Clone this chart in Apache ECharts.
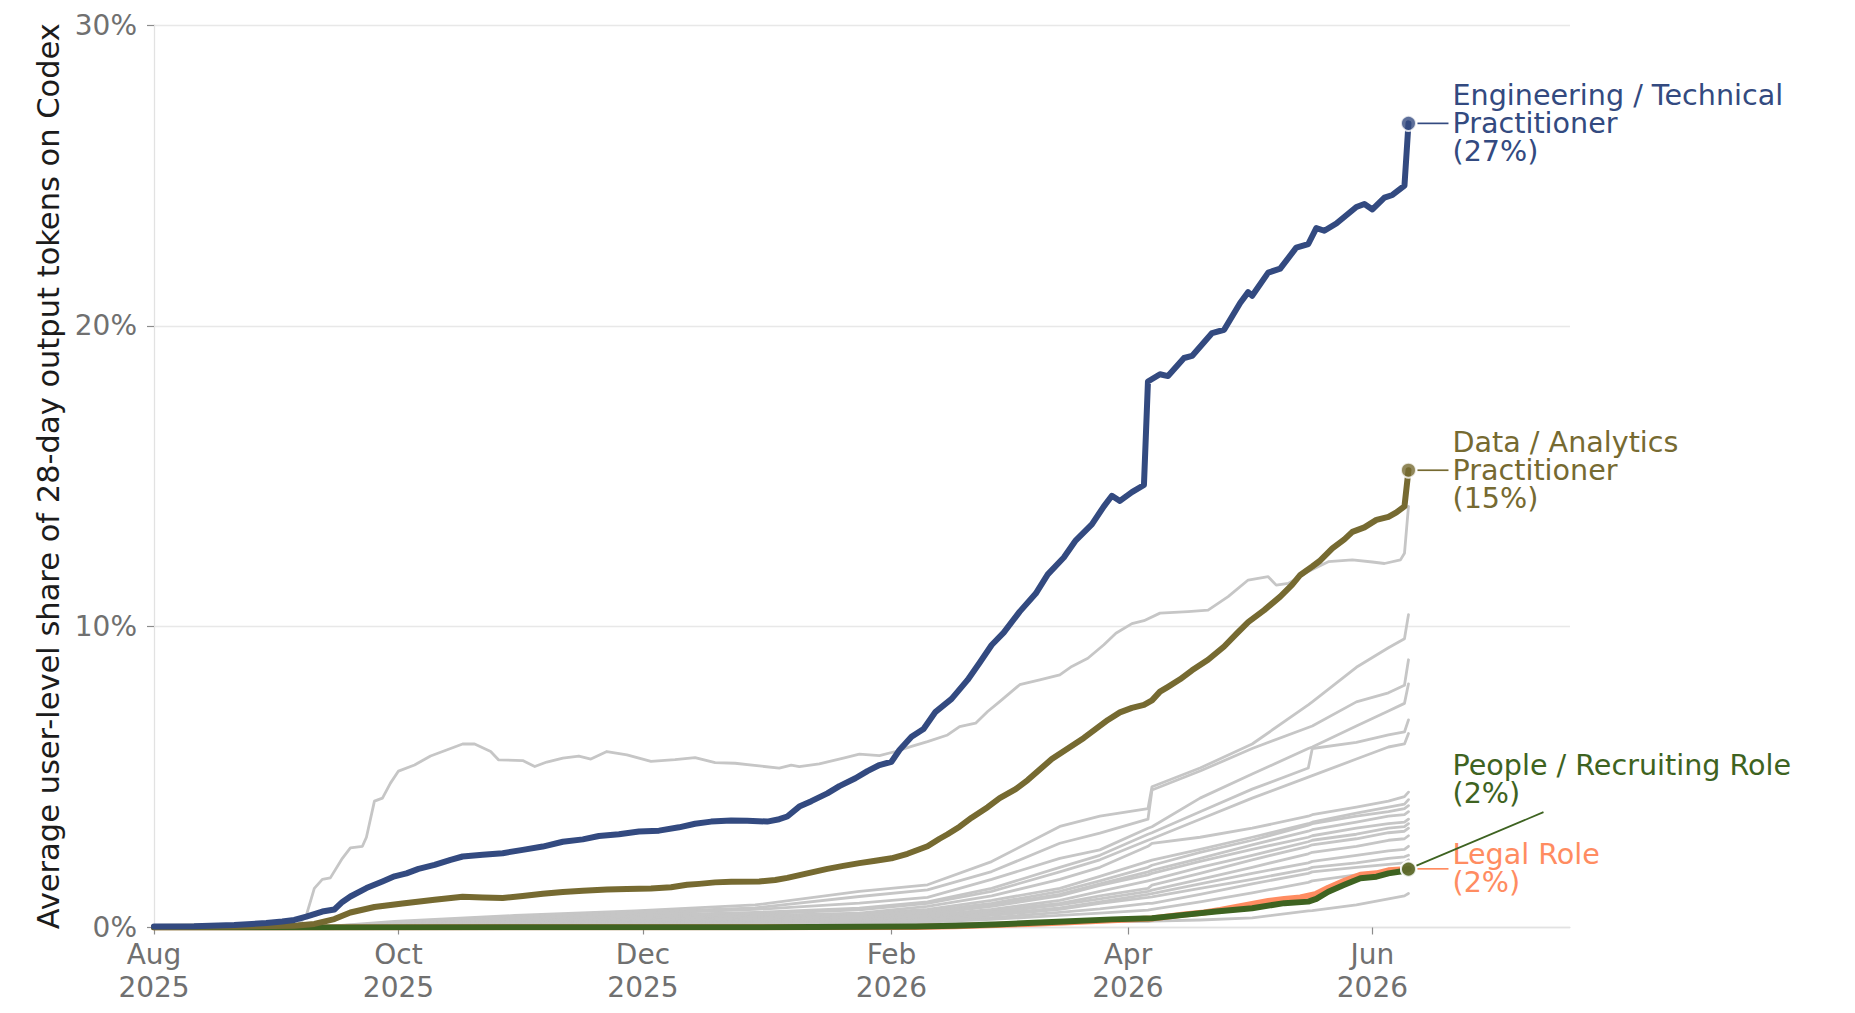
<!DOCTYPE html>
<html>
<head>
<meta charset="utf-8">
<script src="https://cdn.jsdelivr.net/npm/echarts@6/dist/echarts.min.js"></script>
<style>
html,body{margin:0;padding:0;background:#ffffff;}
#chart{width:1855px;height:1013px;}
</style>
</head>
<body>
<div id="chart"></div>
<script>
// ---------------- DATA (x = days since 2025-08-01, y = % share) ----------------
const yTitle = 'Average user-level share of 28-day output tokens on Codex';
const xTickDays = [0, 61, 122, 184, 243, 304];
const xTickLabels = ['Aug\n2025', 'Oct\n2025', 'Dec\n2025', 'Feb\n2026', 'Apr\n2026', 'Jun\n2026'];
const yTickValues = [0, 10, 20, 30];
const yTickLabels = ['0%', '10%', '20%', '30%'];
const xMaxDay = 353.3; // ~2026-07-20

// Engineering / Technical Practitioner
const engName = 'Engineering / Technical\nPractitioner';
const engDays = [0,10,20,28,32,35,38,42,45,47,49,53,57,60,63,66,70,74,77,82,87,92,97,102,107,111,116,121,126,131,135,139,144,148,153,156,158,161,164,168,171,175,178,181,184,186,189,192,195,199,203,206,209,212,216,220,223,227,230,234,237,239,241,244,247,248,251,253,257,259,264,267,271,273,274,278,281,285,288,290,292,295,300,302,304,307,309,312,313];
const engValues = [0.03,0.04,0.08,0.15,0.2,0.25,0.36,0.53,0.6,0.85,1.03,1.31,1.53,1.7,1.8,1.95,2.08,2.25,2.36,2.42,2.47,2.58,2.69,2.85,2.93,3.04,3.1,3.19,3.22,3.33,3.45,3.52,3.56,3.55,3.52,3.6,3.69,4.02,4.2,4.46,4.7,4.96,5.2,5.4,5.51,5.9,6.34,6.6,7.17,7.6,8.23,8.8,9.39,9.8,10.5,11.1,11.74,12.3,12.87,13.4,14.0,14.35,14.18,14.47,14.71,18.15,18.39,18.33,18.93,19.0,19.76,19.87,20.76,21.12,21.0,21.77,21.9,22.6,22.72,23.25,23.16,23.4,23.95,24.05,23.87,24.26,24.35,24.66,26.73];

// Data / Analytics Practitioner
const dataName = 'Data / Analytics\nPractitioner';
const dataDays = [0,20,35,40,45,49,55,62,70,77,82,87,92,97,102,107,113,118,124,129,133,136,140,144,151,155,158,163,168,172,176,180,184,188,193,196,198,201,204,208,211,215,218,221,224,228,232,235,238,241,244,247,249,251,253,256,259,263,267,270,273,277,281,284,286,289,291,294,297,299,302,305,308,310,312,313];
const dataValues = [0.02,0.03,0.06,0.12,0.28,0.5,0.68,0.8,0.92,1.02,1.0,0.98,1.05,1.12,1.18,1.22,1.26,1.28,1.3,1.34,1.42,1.45,1.5,1.52,1.53,1.58,1.65,1.8,1.95,2.05,2.14,2.22,2.3,2.45,2.7,2.95,3.1,3.35,3.65,4.0,4.3,4.6,4.9,5.25,5.6,5.95,6.3,6.6,6.9,7.15,7.3,7.4,7.55,7.84,8.0,8.25,8.55,8.9,9.34,9.75,10.15,10.55,11.0,11.4,11.72,12.0,12.2,12.6,12.9,13.15,13.3,13.55,13.65,13.8,14.0,15.2];

// People / Recruiting Role
const peopleName = 'People / Recruiting Role';
const peopleDays = [0,150,190,200,210,218,227,239,249,257,265,274,282,288,290,293,297,301,305,308,311,313];
const peopleValues = [0,0.01,0.03,0.06,0.1,0.15,0.2,0.27,0.31,0.42,0.53,0.64,0.81,0.86,0.95,1.19,1.42,1.64,1.69,1.8,1.86,1.94];

// Legal Role
const legalName = 'Legal Role';
const legalDays = [0,150,190,200,210,218,227,239,249,257,262,266,270,274,278,282,286,290,293,297,301,305,308,311,313];
const legalValues = [0,0.01,0.02,0.04,0.08,0.12,0.17,0.24,0.3,0.43,0.5,0.58,0.68,0.78,0.88,0.95,1.0,1.12,1.32,1.55,1.75,1.8,1.9,1.93,1.95];

// Other roles (grey context lines)
const earlyDays = [0,20,36,38,40,42,44,47,49,52,53,55,57,59,61,65,69,73,77,80,84,86,92,95,98,102,106,109,113,118,124,130,135,140,145,151,156,159,161,166,172,176,181,185,189,193,198,201,205,208,211,216,221,226,229,233,237,240,244,247,251,258,263,268,273,278,280,283,288,293,299,304,307,311,312,313];
const earlyValues = [0.02,0.03,0.1,0.4,1.3,1.6,1.65,2.3,2.65,2.7,3.0,4.2,4.3,4.8,5.2,5.4,5.7,5.9,6.1,6.1,5.85,5.57,5.55,5.35,5.5,5.63,5.7,5.6,5.85,5.74,5.52,5.58,5.65,5.48,5.46,5.37,5.3,5.4,5.35,5.44,5.63,5.76,5.71,5.85,6.02,6.18,6.4,6.68,6.79,7.18,7.51,8.07,8.23,8.4,8.68,8.95,9.4,9.78,10.1,10.2,10.45,10.5,10.55,11.0,11.55,11.66,11.38,11.44,11.83,12.16,12.22,12.15,12.1,12.22,12.44,14.0];

const greyDays = [0,35,45,60,90,120,150,176,193,209,226,236,248,249,261,274,288,289,300,308,312,313];
const greyM1 = [0,0,0.05,0.2,0.4,0.55,0.75,1.2,1.42,2.19,3.36,3.7,3.95,4.68,5.3,6.1,7.4,7.5,8.65,9.3,9.6,10.4];
const greyM2 = [0,0,0.05,0.15,0.35,0.5,0.65,1.03,1.25,1.86,2.8,3.14,3.6,4.57,5.2,5.95,6.65,6.7,7.5,7.8,8.05,8.9];
const greyM3 = [0,0,0.03,0.12,0.3,0.45,0.6,0.81,1.0,1.6,2.3,2.58,3.3,3.35,4.3,5.1,5.95,6.0,6.7,7.2,7.45,8.1];
const greyM4 = [0,0,0.03,0.1,0.25,0.4,0.5,0.64,0.85,1.3,2.0,2.4,3.1,3.15,3.85,4.6,5.3,5.95,6.15,6.4,6.5,6.9];
const greyM5 = [0,0,0.02,0.08,0.22,0.35,0.45,0.59,0.8,1.2,1.85,2.25,2.9,2.95,3.6,4.3,5.0,5.05,5.6,6.0,6.1,6.45];
const greyC1 = [0,0,0.02,0.08,0.2,0.3,0.4,0.48,0.7,1.05,1.6,2.0,2.7,2.8,3.0,3.3,3.7,3.75,4.0,4.2,4.35,4.5];
const greyC2 = [0,0,0.02,0.06,0.18,0.28,0.35,0.45,0.6,0.9,1.3,1.7,2.2,2.24,2.6,3.0,3.45,3.5,3.8,4.0,4.1,4.25];
const greyC3 = [0,0,0.02,0.06,0.15,0.25,0.32,0.4,0.55,0.8,1.2,1.55,2.0,2.07,2.5,2.9,3.4,3.45,3.7,3.85,3.95,4.05];
const greyC4 = [0,0,0.01,0.05,0.14,0.22,0.3,0.37,0.5,0.75,1.1,1.45,1.85,1.9,2.3,2.75,3.2,3.25,3.5,3.7,3.75,3.85];
const greyC5 = [0,0,0.01,0.05,0.12,0.2,0.27,0.33,0.45,0.7,1.05,1.4,1.75,1.8,2.2,2.6,3.0,3.05,3.3,3.45,3.5,3.6];
const greyC6 = [0,0,0.01,0.04,0.1,0.18,0.24,0.3,0.4,0.6,0.9,1.2,1.55,1.58,2.0,2.4,2.85,2.9,3.1,3.3,3.35,3.45];
const greyC7 = [0,0,0.01,0.04,0.09,0.15,0.21,0.26,0.35,0.55,0.8,1.05,1.3,1.41,1.8,2.25,2.7,2.75,2.95,3.15,3.2,3.3];
const greyC8 = [0,0,0.01,0.03,0.08,0.13,0.19,0.23,0.3,0.5,0.75,0.95,1.2,1.24,1.6,2.0,2.45,2.5,2.7,2.9,2.95,3.05];
const greyC9 = [0,0,0.01,0.03,0.07,0.12,0.17,0.2,0.28,0.45,0.65,0.85,1.1,1.13,1.45,1.8,2.15,2.2,2.4,2.55,2.6,2.7];
const greyC10 = [0,0,0,0.02,0.06,0.1,0.15,0.18,0.25,0.4,0.6,0.8,1.0,1.02,1.3,1.6,1.95,2.0,2.15,2.3,2.35,2.4];
const greyC11 = [0,0,0,0.02,0.05,0.09,0.13,0.16,0.22,0.33,0.5,0.62,0.8,0.8,1.1,1.45,1.8,1.85,2.0,2.1,2.15,2.25];
const greyC12 = [0,0,0,0.01,0.04,0.07,0.1,0.13,0.18,0.27,0.4,0.48,0.58,0.6,0.85,1.15,1.5,1.55,1.75,1.85,1.9,2.0];
const greyC13 = [0,0,0,0.01,0.03,0.05,0.07,0.09,0.12,0.15,0.18,0.2,0.2,0.21,0.25,0.32,0.55,0.56,0.75,0.95,1.05,1.13];

// ---------------- STYLE ----------------
const FONT = '"DejaVu Sans", "Liberation Sans", sans-serif';
const FS_TICK = 28;
const FS_NOTE = 28.6;
const FS_TITLE = 30.5;
const C_ENG = '#334A80';
const C_DATA = '#766A31';
const C_PEOPLE = '#3E6321';
const C_LEGAL = '#FF8C61';
const C_GREY = '#c6c6c6';
const C_TICK = '#707070';

const pairs = (days, vals) => days.map((d, i) => [d, vals[i]]);
const greySets = [
  [earlyDays, earlyValues],
  [greyDays, greyM1], [greyDays, greyM2], [greyDays, greyM3], [greyDays, greyM4], [greyDays, greyM5],
  [greyDays, greyC1], [greyDays, greyC2], [greyDays, greyC3], [greyDays, greyC4], [greyDays, greyC5],
  [greyDays, greyC6], [greyDays, greyC7], [greyDays, greyC8], [greyDays, greyC9], [greyDays, greyC10],
  [greyDays, greyC11], [greyDays, greyC12], [greyDays, greyC13]
];

const lineSeries = (name, days, vals, color, width, z) => ({
  name, type: 'line', data: pairs(days, vals), showSymbol: false, symbol: 'none',
  lineStyle: { color, width, join: 'round', cap: 'round' }, z, silent: true, animation: false
});

const series = [];
greySets.forEach((s, i) => series.push(lineSeries('other' + i, s[0], s[1], C_GREY, 2.8, 1)));
series.push(lineSeries(legalName, legalDays, legalValues, C_LEGAL, 6, 2));
series.push(lineSeries(peopleName, peopleDays, peopleValues, C_PEOPLE, 6, 3));
series.push(lineSeries(dataName, dataDays, dataValues, C_DATA, 6, 4));
series.push(lineSeries(engName, engDays, engValues, C_ENG, 6, 5));

const highlights = [
  { key: 'legal', days: legalDays, vals: legalValues, color: C_LEGAL, text: legalName },
  { key: 'people', days: peopleDays, vals: peopleValues, color: C_PEOPLE, text: peopleName },
  { key: 'data', days: dataDays, vals: dataValues, color: C_DATA, text: dataName },
  { key: 'eng', days: engDays, vals: engValues, color: C_ENG, text: engName }
];
highlights.forEach(h => {
  series.push({
    type: 'scatter', silent: true, animation: false, z: 10,
    data: [[h.days[h.days.length - 1], h.vals[h.vals.length - 1]]],
    symbol: 'circle', symbolSize: 15,
    itemStyle: { color: h.color, borderColor: '#ffffff', borderWidth: 2 }
  });
});

const lookup = (arr, labels, v) => {
  for (let i = 0; i < arr.length; i++) if (Math.abs(arr[i] - v) < 1e-6) return labels[i];
  return '';
};

const option = {
  backgroundColor: '#ffffff',
  animation: false,
  grid: { left: 154, right: 285, top: 25, bottom: 85.5, containLabel: false, outerBoundsMode: 'none' },
  xAxis: {
    type: 'value', min: 0, max: xMaxDay,
    axisLine: { show: true, onZero: false, lineStyle: { color: '#e2e2e2', width: 1.3 } },
    axisTick: { show: true, length: 7, customValues: xTickDays, lineStyle: { color: '#8c8c8c', width: 1.2 } },
    axisLabel: {
      customValues: xTickDays, formatter: v => lookup(xTickDays, xTickLabels, v),
      color: C_TICK, fontSize: FS_TICK, fontFamily: FONT, lineHeight: 33, margin: 10
    },
    splitLine: { show: false }
  },
  yAxis: {
    type: 'value', min: 0, max: 30, interval: 10,
    name: yTitle, nameLocation: 'middle', nameRotate: 90, nameGap: 90,
    nameTextStyle: { fontSize: FS_TITLE, fontFamily: FONT, color: '#1c1c1c' },
    axisLine: { show: true, lineStyle: { color: '#e2e2e2', width: 1.3 } },
    axisTick: { show: true, length: 7, lineStyle: { color: '#8c8c8c', width: 1.2 } },
    axisLabel: { formatter: v => lookup(yTickValues, yTickLabels, v), color: C_TICK, fontSize: FS_TICK, fontFamily: FONT, margin: 17 },
    splitLine: { show: true, lineStyle: { color: '#e8e8e8', width: 1.3 } }
  },
  series
};

const chart = echarts.init(document.getElementById('chart'), null, { renderer: 'svg', width: 1855, height: 1013 });
chart.setOption(option);

// ---------------- Annotations anchored to each highlighted series' last point ----------------
const graphics = [];
const layout = {
  eng:    { textDx: 44, textDy: 0,     line: [[9, 0], [40, 0]] },
  data:   { textDx: 44, textDy: 0,     line: [[9, 0], [40, 0]] },
  people: { textDx: 44, textDy: -90.5, line: [[8, -3.5], [135, -57]] },
  legal:  { textDx: 44, textDy: -0.5,  line: [[9, 0], [40, 0]] }
};
highlights.forEach(h => {
  const lastD = h.days[h.days.length - 1];
  const lastV = h.vals[h.vals.length - 1];
  const p = chart.convertToPixel({ gridIndex: 0 }, [lastD, lastV]);
  const L = layout[h.key];
  graphics.push({
    type: 'line', silent: true, z: 20,
    shape: { x1: p[0] + L.line[0][0], y1: p[1] + L.line[0][1], x2: p[0] + L.line[1][0], y2: p[1] + L.line[1][1] },
    style: { stroke: h.color, lineWidth: 1.7 }
  });
  graphics.push({
    type: 'text', silent: true, z: 20,
    x: p[0] + L.textDx, y: p[1] + L.textDy,
    style: {
      text: h.text + '\n(' + Math.round(lastV) + '%)',
      fill: h.color, fontSize: FS_NOTE, fontFamily: FONT, lineHeight: 28,
      align: 'left', verticalAlign: 'middle'
    }
  });
});
chart.setOption({ graphic: graphics });
</script>
</body>
</html>
